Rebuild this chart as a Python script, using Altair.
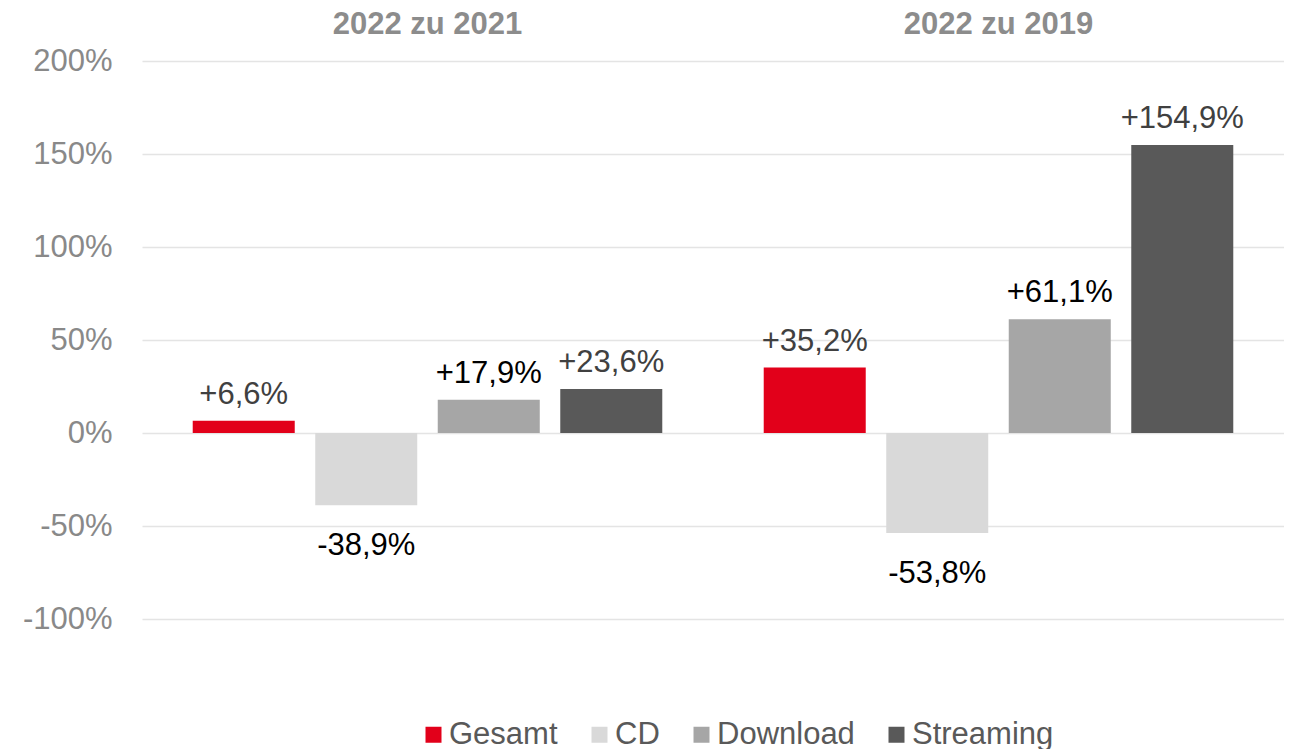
import altair as alt
import pandas as pd

groups = ["2022 zu 2021", "2022 zu 2019"]
series = ["Gesamt", "CD", "Download", "Streaming"]
values_2021 = [6.6, -38.9, 17.9, 23.6]
values_2019 = [35.2, -53.8, 61.1, 154.9]
y_ticks = [-100, -50, 0, 50, 100, 150, 200]

bar_colors = ["#e2001a", "#d9d9d9", "#a6a6a6", "#595959"]
label_colors = ["#404040", "#000000", "#000000", "#404040"]

rows = []
for g, vals in zip(groups, [values_2021, values_2019]):
    for s, v in zip(series, vals):
        lab = ("+" if v > 0 else "") + f"{v:.1f}".replace(".", ",") + "%"
        rows.append({"group": g, "series": s, "value": v, "label": lab,
                     "sign": "pos" if v >= 0 else "neg"})
df = pd.DataFrame(rows)

FONT = "Liberation Sans"

x = alt.X("group:N", sort=groups,
          scale=alt.Scale(paddingInner=0, paddingOuter=0),
          axis=alt.Axis(orient="top", title=None, ticks=False, domain=False, grid=False,
                        labelAngle=0, labelFontSize=31, labelFontWeight="bold",
                        labelColor="#8c8c8c", labelPadding=21, labelFont=FONT,
                        labelLimit=500))
xo = alt.XOffset("series:N", sort=series,
                 scale=alt.Scale(paddingInner=0.1673, paddingOuter=0.414))
y = alt.Y("value:Q", scale=alt.Scale(domain=[-100, 200], nice=False),
          axis=alt.Axis(values=y_ticks, title=None, labelExpr="datum.value + '%'",
                        ticks=False, tickSize=0, domain=False, labelPadding=30,
                        labelFontSize=31, labelColor="#898989", labelFont=FONT,
                        grid=True, gridColor="#e4e4e4", gridWidth=1.5))

bars = alt.Chart(df).mark_bar().encode(
    x=x, xOffset=xo, y=y,
    color=alt.Color("series:N", sort=series,
                    scale=alt.Scale(domain=series, range=bar_colors),
                    legend=alt.Legend(orient="none", legendX=276, legendY=658,
                                      direction="horizontal", title=None,
                                      symbolType="square", symbolSize=256,
                                      symbolStrokeWidth=0, labelFontSize=31,
                                      labelColor="#595959", labelFont=FONT,
                                      columnPadding=26, labelOffset=0, padding=0,
                                      labelLimit=300)),
)

text_color = alt.Color("series:N", scale=alt.Scale(domain=series, range=label_colors),
                       legend=None)

pos_text = alt.Chart(df).transform_filter(alt.datum.sign == "pos").mark_text(
    baseline="alphabetic", dy=-17, fontSize=31, font=FONT
).encode(x=x, xOffset=xo, y=y, text="label:N", color=text_color)

neg_text = alt.Chart(df).transform_filter(alt.datum.sign == "neg").mark_text(
    baseline="alphabetic", dy=50, fontSize=31, font=FONT
).encode(x=x, xOffset=xo, y=y, text="label:N", color=text_color)

chart = alt.layer(bars, pos_text, neg_text).resolve_scale(color="independent").properties(
    width=1142, height=558,
    autosize=alt.AutoSizeParams(type="none"),
    padding={"left": 134, "top": 53, "right": 0, "bottom": 150},
).configure_view(stroke=None)

chart.save("out.html", embed_options={"renderer": "svg", "actions": False})
